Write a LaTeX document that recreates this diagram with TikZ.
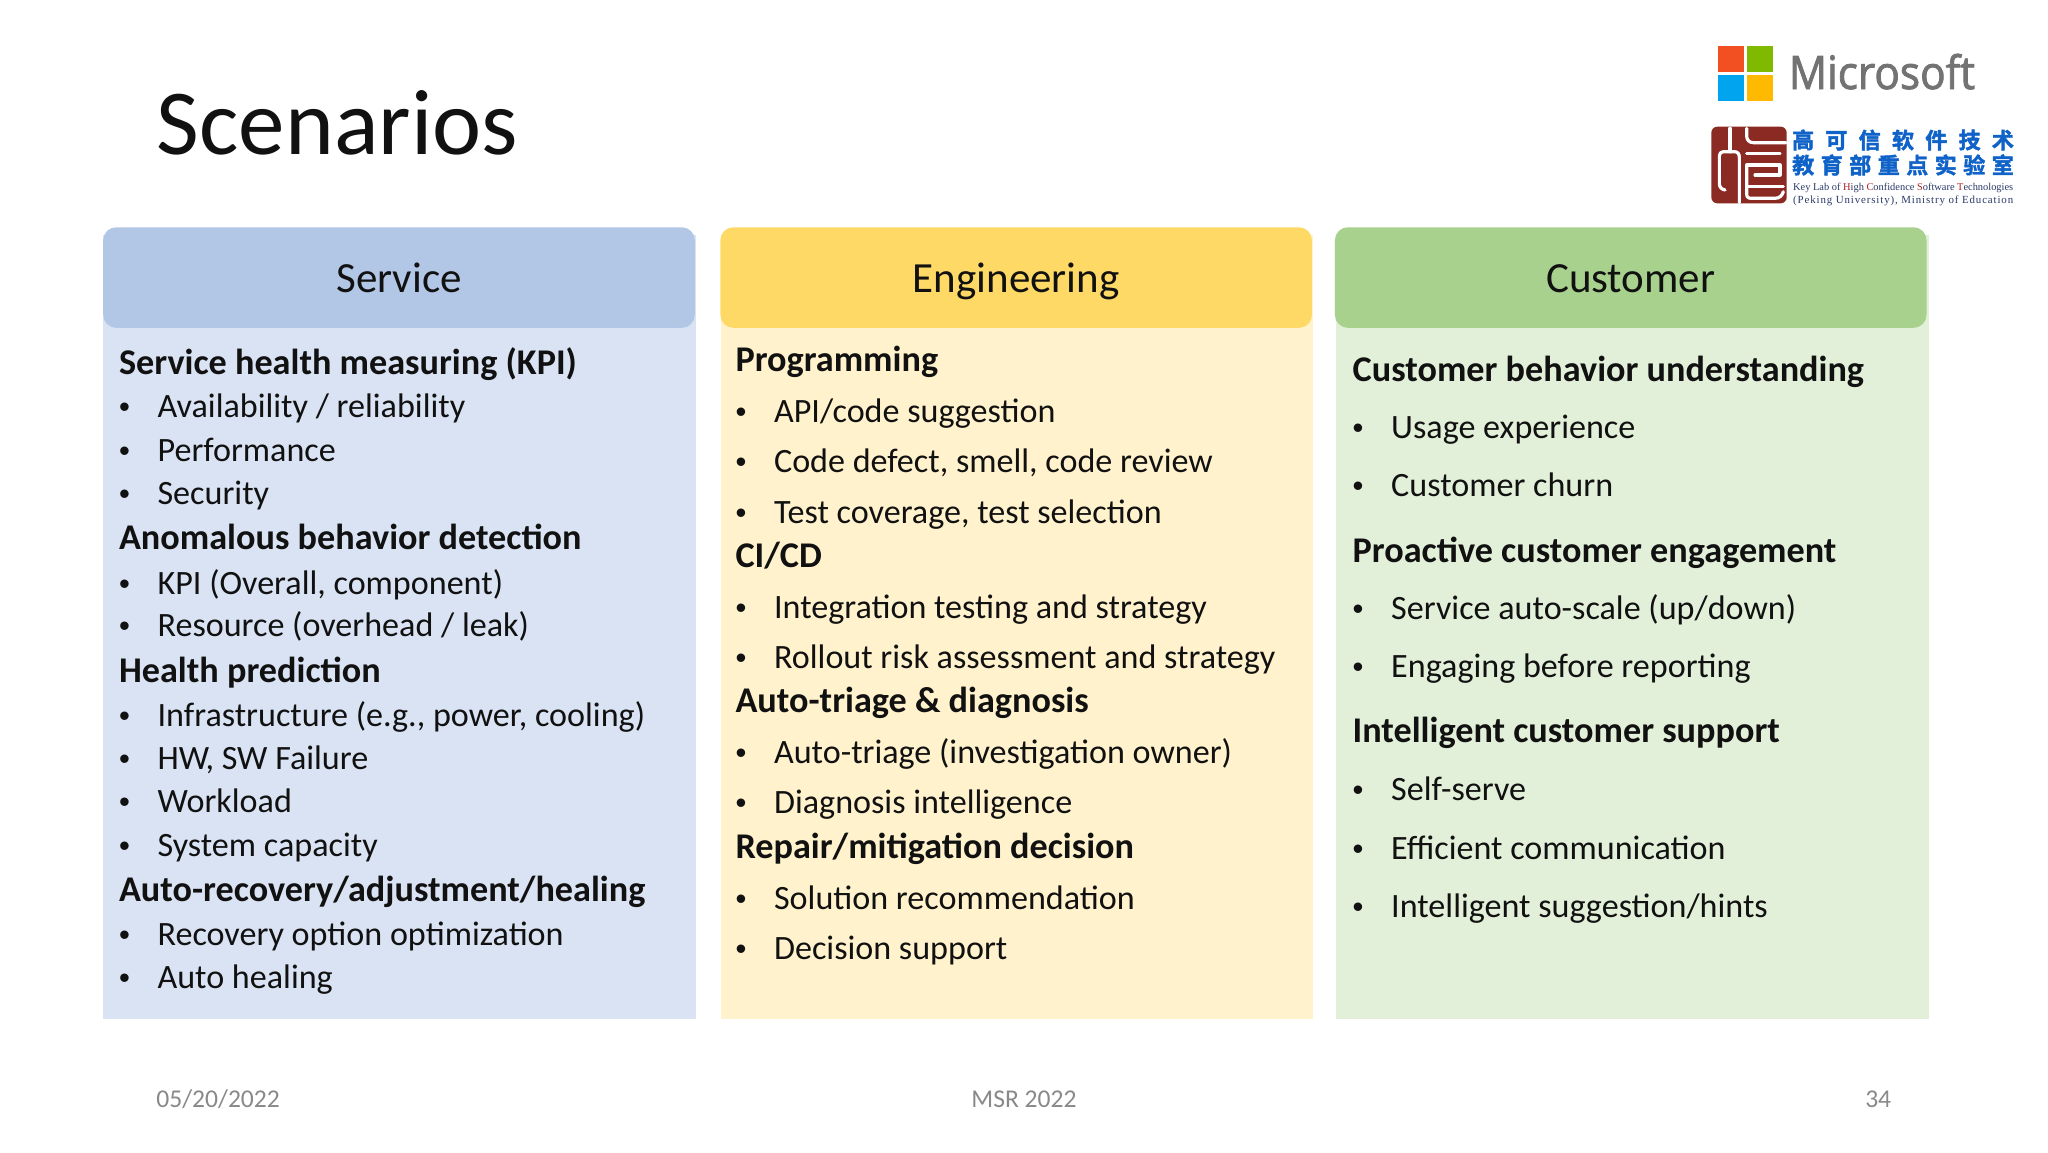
\documentclass[tikz,border=0pt]{standalone}
\usepackage{fontspec}
\setmainfont{Carlito}
\newfontfamily\msfont{Open Sans}[FakeStretch=0.92,FakeBold=1.8]
\newfontfamily\cjkfont{Noto Sans CJK SC}[BoldFont={* Bold},BoldFeatures={FakeBold=2}]
\newfontfamily\serfont{Liberation Serif}
\newfontfamily\bulfont{Liberation Sans}
\definecolor{svcH}{HTML}{B2C6E6}\definecolor{svcB}{HTML}{DAE3F3}
\definecolor{engH}{HTML}{FFD966}\definecolor{engB}{HTML}{FFF2CC}
\definecolor{cusH}{HTML}{A9D18E}\definecolor{cusB}{HTML}{E2F0D9}
\definecolor{txt}{HTML}{111111}\definecolor{foot}{HTML}{898989}
\definecolor{sealred}{HTML}{8A2A22}\definecolor{labblue}{HTML}{0F62C8}
\definecolor{labnavy}{HTML}{2A3A6A}\definecolor{labred}{HTML}{B02020}
\definecolor{msred}{HTML}{F25022}\definecolor{msgreen}{HTML}{7FBA00}
\definecolor{msblue}{HTML}{00A4EF}\definecolor{msyellow}{HTML}{FFB900}
\definecolor{msgray}{HTML}{737373}
\tikzset{
 body/.style={inner sep=0pt,anchor=base west,text=txt,font=\fontsize{34.1}{34}\selectfont},
 head/.style={body,font=\fontsize{36.2}{36}\selectfont\bfseries},
 bull/.style={body,font=\bulfont\fontsize{31}{31}\selectfont},
 title/.style={inner sep=0pt,anchor=center,text=txt,font=\fontsize{43}{43}\selectfont,text height=33.5pt,text depth=3.5pt,minimum width=591.6pt,minimum height=100.6pt,rounded corners=13pt},
 foottxt/.style={inner sep=0pt,anchor=base,text=foot,font=\fontsize{25.6}{25}\selectfont},
 sealline/.style={draw=white,line width=3.2pt,line cap=round,line join=round},
 cjkline/.style={inner sep=0pt,anchor=center,text=labblue,font=\cjkfont\bfseries\fontsize{22}{22}\selectfont},
 labline/.style={inner sep=0pt,anchor=base west,text=labnavy,font=\serfont\fontsize{10}{10}\selectfont},
}
\newcommand{\hd}[4]{\node[head] (#1) at (#2,#3+0.8) {#4};}
\newcommand{\itm}[4]{\node[bull] (#1b) at (#2,#3) {•};\node[body] (#1) at (#2+29.5,#3) {#4};}
\newcommand{\rd}[1]{\textcolor{labred}{#1}}
\begin{document}
\begin{tikzpicture}[x=1.30612pt,y=-1.30612pt]
\useasboundingbox (0,0) rectangle (1568,882);
\fill[white] (0,0) rectangle (1568,882);
\node[inner sep=0pt,anchor=base west,text=txt,font=\fontsize{93}{93}\selectfont] (ttl) at (120,118) {Scenarios};
% panels
\fill[svcB] (79,180) rectangle (533,780);
\fill[engB] (552,180) rectangle (1005,780);
\fill[cusB] (1023,180) rectangle (1477,780);
\node[title,fill=svcH] (hs) at (305.5,212.5) {Service};
\node[title,fill=engH] (he) at (778,212.5) {Engineering};
\node[title,fill=cusH] (hc) at (1248.5,212.5) {Customer};
% service
\hd{s1}{91}{286}{Service health measuring (KPI)}
\itm{s2}{91}{319.5}{Availability / reliability}
\itm{s3}{91}{353}{Performance}
\itm{s4}{91}{386.5}{Security}
\hd{s5}{91}{420}{Anomalous behavior detection}
\itm{s6}{91}{455}{KPI (Overall, component)}
\itm{s7}{91}{487.5}{Resource (overhead / leak)}
\hd{s8}{91}{521.5}{Health prediction}
\itm{s9}{91}{556}{Infrastructure (e.g., power, cooling)}
\itm{s10}{91}{589}{HW, SW Failure}
\itm{s11}{91}{622}{Workload}
\itm{s12}{91}{655.5}{System capacity}
\hd{s13}{91}{689.5}{Auto-recovery/adjustment/healing}
\itm{s14}{91}{724}{Recovery option optimization}
\itm{s15}{91}{756.5}{Auto healing}
% engineering
\hd{e1}{563}{284}{Programming}
\itm{e2}{563}{323.8}{API/code suggestion}
\itm{e3}{563}{362}{Code defect, smell, code review}
\itm{e4}{563}{400.5}{Test coverage, test selection}
\hd{e5}{563}{433.5}{CI/CD}
\itm{e6}{563}{473.5}{Integration testing and strategy}
\itm{e7}{563}{512}{Rollout risk assessment and strategy}
\hd{e8}{563}{545}{Auto-triage \& diagnosis}
\itm{e9}{563}{584.8}{Auto-triage (investigation owner)}
\itm{e10}{563}{623}{Diagnosis intelligence}
\hd{e11}{563}{656.2}{Repair/mitigation decision}
\itm{e12}{563}{696}{Solution recommendation}
\itm{e13}{563}{734.5}{Decision support}
% customer
\hd{c1}{1035.5}{291}{Customer behavior understanding}
\itm{c2}{1035.5}{335.5}{Usage experience}
\itm{c3}{1035.5}{380}{Customer churn}
\hd{c4}{1035.5}{429.5}{Proactive customer engagement}
\itm{c5}{1035.5}{474}{Service auto-scale (up/down)}
\itm{c6}{1035.5}{519}{Engaging before reporting}
\hd{c7}{1035.5}{568}{Intelligent customer support}
\itm{c8}{1035.5}{613}{Self-serve}
\itm{c9}{1035.5}{658}{Efficient communication}
\itm{c10}{1035.5}{702.5}{Intelligent suggestion/hints}
% footer
\node[foottxt] (f1) at (167,848) {05/20/2022};
\node[foottxt] (f2) at (784,848) {MSR 2022};
\node[foottxt] (f3) at (1438,848) {34};
% Microsoft logo
\begin{scope}[x=0.33333pt,y=-0.33333pt,shift={(1680pt,-20pt)}]
\fill[msred] (113,77) rectangle (191,156);
\fill[msgreen] (200,77) rectangle (278,156);
\fill[msblue] (113,164) rectangle (191,242);
\fill[msyellow] (200,164) rectangle (278,242);
\node[inner sep=0pt,anchor=base west,text=msgray,font=\msfont\fontsize{46}{46}\selectfont] (ms) at (326,207) {Microsoft};
\end{scope}
% seal
\begin{scope}[x=0.33333pt,y=-0.33333pt,shift={(1705pt,-120pt)}]
\fill[sealred,rounded corners=6pt] (19,20) rectangle (245,250);
\draw[sealline] (75,25) -- (75,95);
\draw[sealline] (60,210) .. controls (48,208) and (43,200) .. (43,190) -- (43,108) .. controls (43,100) and (48,95) .. (55,95) -- (88,95) .. controls (98,95) and (103,102) .. (103,112) -- (103,248);
\draw[sealline] (125,25) -- (125,48) .. controls (125,60) and (133,68) .. (145,68) -- (243,68);
\draw[sealline] (125,100) -- (225,100);
\draw[sealline] (125,135) -- (225,135) -- (225,165) -- (150,165);
\draw[sealline] (125,200) -- (235,200);
\draw[sealline] (125,135) -- (125,222) .. controls (125,232) and (130,235) .. (140,235) -- (210,235) .. controls (225,235) and (232,225) .. (235,215);
\end{scope}
% lab names
\node[cjkline] (cj1) at ({1903/1.30612},{140/1.30612}) {高\hspace{11.3pt}可\hspace{11.3pt}信\hspace{11.3pt}软\hspace{11.3pt}件\hspace{11.3pt}技\hspace{11.3pt}术};
\node[cjkline] (cj2) at ({1903/1.30612},{165/1.30612}) {教\hspace{6.5pt}育\hspace{6.5pt}部\hspace{6.5pt}重\hspace{6.5pt}点\hspace{6.5pt}实\hspace{6.5pt}验\hspace{6.5pt}室};
\node[labline] (lab1) at ({1793/1.30612},{190.5/1.30612}) {\resizebox{220pt}{!}{Key Lab of \rd{H}igh \rd{C}onfidence \rd{S}oftware \rd{T}echnologies}};
\node[labline] (lab2) at ({1793/1.30612},{203/1.30612}) {\resizebox{220pt}{!}{\addfontfeature{LetterSpace=8}(Peking University), Ministry of Education}};
\end{tikzpicture}
\end{document}
